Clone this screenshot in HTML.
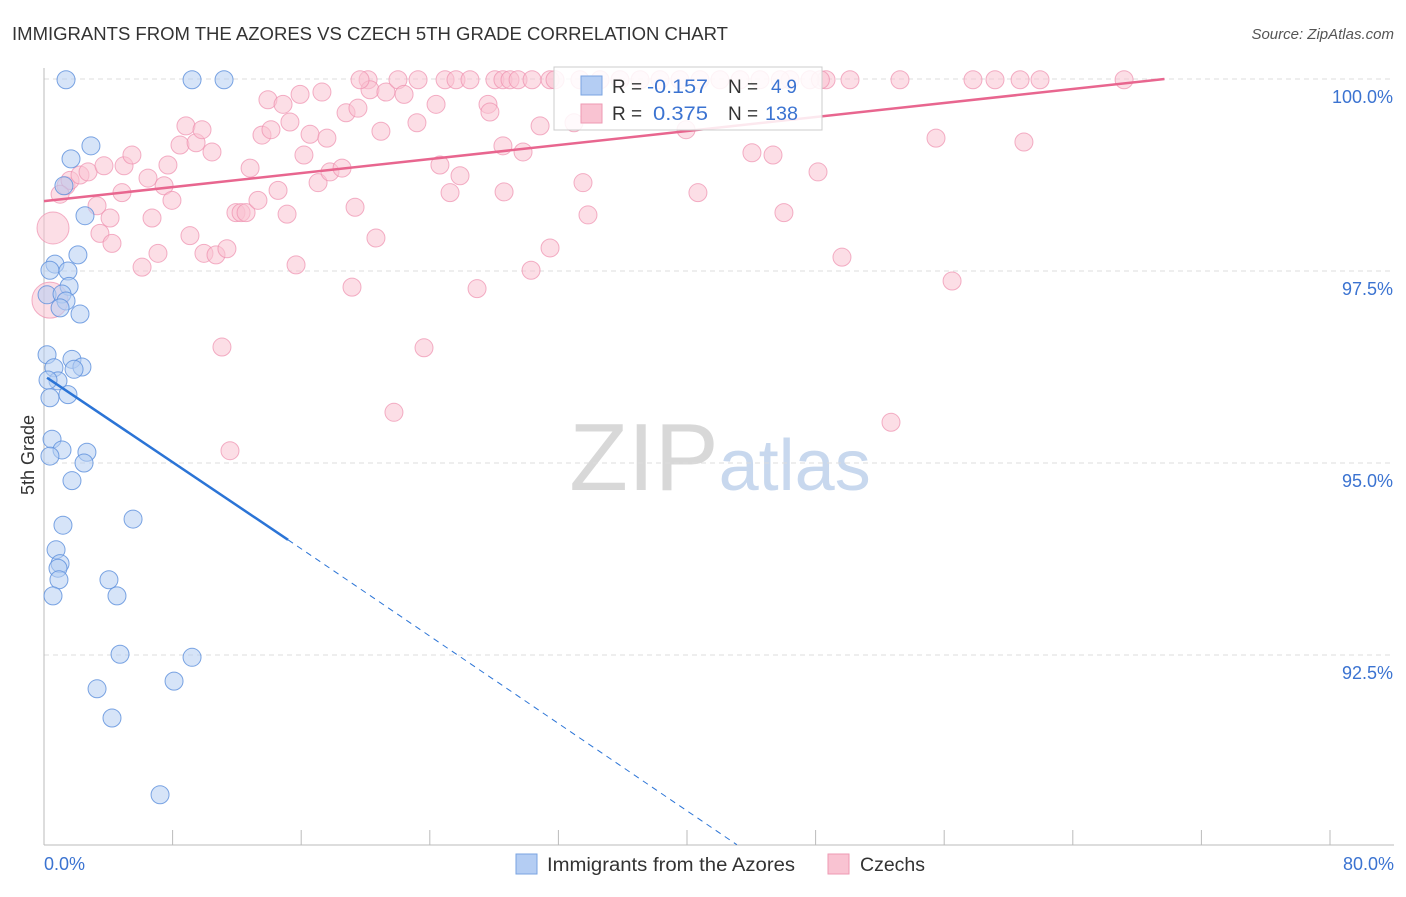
<!DOCTYPE html>
<html><head><meta charset="utf-8"><style>
body{margin:0;background:#fff;font-family:"Liberation Sans",sans-serif;}
svg text{font-family:"Liberation Sans",sans-serif;}
</style></head><body>
<svg id="chart" width="1406" height="892" viewBox="0 0 1406 892" xmlns="http://www.w3.org/2000/svg">
<text x="12" y="40" font-size="18" fill="#333" textLength="716" lengthAdjust="spacingAndGlyphs">IMMIGRANTS FROM THE AZORES VS CZECH 5TH GRADE CORRELATION CHART</text>
<text x="1394" y="39" font-size="15" fill="#555" font-style="italic" text-anchor="end">Source: ZipAtlas.com</text>
<text x="720" y="490" font-size="96" text-anchor="middle" fill="#d8d8d8" font-family="Liberation Serif">ZIP<tspan fill="#c8d8ee" font-family="Liberation Sans" font-size="72">atlas</tspan></text>
<text transform="translate(34,455) rotate(-90)" font-size="18" fill="#333" text-anchor="middle">5th Grade</text>
<g id="grid"></g>
<g id="axes"></g>
<g id="pink"></g>
<g id="blue"></g>
<g id="trends"></g>
<g>
<rect x="554" y="67" width="268" height="63" fill="#fff" fill-opacity="0.85" stroke="#ccc"/>
<rect x="581" y="76" width="21" height="19" fill="#b4cdf3" stroke="#7aa3e0"/>
<rect x="581" y="104" width="21" height="19" fill="#f9c3d2" stroke="#ee9ab3"/>
<text x="612" y="93" font-size="19" fill="#333">R = <tspan x="647" fill="#3b73d1" textLength="61" lengthAdjust="spacingAndGlyphs">-0.157</tspan><tspan x="728">N = </tspan><tspan x="771" fill="#3b73d1" textLength="26">49</tspan></text>
<text x="612" y="120" font-size="19" fill="#333">R = <tspan x="653" fill="#3b73d1" textLength="55" lengthAdjust="spacingAndGlyphs">0.375</tspan><tspan x="728">N = </tspan><tspan x="765" fill="#3b73d1" textLength="33" lengthAdjust="spacingAndGlyphs">138</tspan></text>
</g>
<g>
<rect x="516" y="854" width="21" height="20" fill="#b4cdf3" stroke="#7aa3e0"/>
<text x="547" y="871" font-size="19" fill="#333" textLength="248" lengthAdjust="spacingAndGlyphs">Immigrants from the Azores</text>
<rect x="828" y="854" width="21" height="20" fill="#f9c3d2" stroke="#ee9ab3"/>
<text x="860" y="871" font-size="19" fill="#333" textLength="65" lengthAdjust="spacingAndGlyphs">Czechs</text>
</g>
</svg>
<script>
const yTicks=[100,97.5,95,92.5];
const yTickLabels=["100.0%","97.5%","95.0%","92.5%"];
const xTickLabels=["0.0%","80.0%"];
const blueX=[1.37,9.21,11.20,2.92,1.68,1.24,2.55,2.11,0.68,0.37,1.49,1.56,0.19,1.12,1.37,1.00,2.24,0.19,1.74,2.36,0.62,1.87,0.87,0.25,1.49,0.37,0.50,1.12,2.67,0.37,2.49,1.74,1.18,5.54,0.75,1.00,0.87,0.93,4.04,0.56,4.54,4.73,9.21,8.09,3.30,4.23,7.22];
const blueY=[99.99,99.99,99.99,99.13,98.96,98.61,98.22,97.71,97.59,97.51,97.50,97.30,97.19,97.20,97.11,97.02,96.94,96.41,96.35,96.25,96.24,96.22,96.07,96.08,95.89,95.85,95.31,95.17,95.14,95.09,95.00,94.77,94.19,94.27,93.87,93.69,93.63,93.48,93.48,93.27,93.27,92.51,92.47,92.16,92.06,91.68,90.68];
const pinkX=[1.37,1.62,2.24,2.74,3.73,4.98,5.47,6.47,7.47,7.96,8.83,8.46,9.46,9.83,10.45,7.71,4.85,3.30,4.11,3.48,4.23,6.10,7.09,6.72,9.08,9.95,10.70,11.38,11.07,11.57,11.94,12.26,12.57,13.31,12.82,13.93,14.87,15.93,17.29,13.56,14.12,15.30,16.55,16.17,17.60,17.05,14.56,15.68,15.12,17.79,18.54,19.35,20.65,19.16,18.79,19.53,20.16,20.28,21.27,22.02,22.40,23.27,24.39,24.95,25.63,23.20,20.96,24.63,25.26,25.88,23.64,21.77,26.94,27.62,27.74,28.05,28.55,28.99,29.49,30.36,28.55,28.62,29.80,30.86,31.48,30.30,31.48,31.79,32.97,33.53,33.84,35.83,37.08,38.32,39.94,40.68,42.05,44.04,45.35,46.03,48.15,48.65,49.64,50.14,53.25,55.49,56.49,57.79,59.16,60.72,60.96,61.96,67.19,52.69,1.00,34.59,40.81,44.54,46.41,47.65,39.56,19.66,26.50,33.34,43.3,45.8,48.3];
const pinkY=[98.61,98.68,98.75,98.79,98.87,98.87,99.01,98.71,98.61,98.42,99.39,99.14,99.17,99.34,99.05,98.88,98.52,98.35,98.19,97.99,97.86,97.55,97.73,98.19,97.96,97.73,97.71,97.79,96.51,95.16,98.26,98.26,98.26,98.42,98.84,99.73,99.67,99.80,99.83,99.27,99.34,99.44,99.28,99.01,99.23,98.65,98.55,97.58,98.24,98.79,98.84,98.33,97.93,97.29,99.56,99.62,99.99,99.86,99.83,99.99,99.80,99.99,99.67,99.99,99.99,99.43,99.32,98.88,98.52,98.74,96.50,95.66,97.27,99.67,99.57,99.99,99.99,99.99,99.99,99.99,99.13,98.53,99.05,99.39,97.80,97.51,99.99,99.99,99.43,98.65,98.23,99.99,99.99,99.99,99.34,98.52,99.99,99.04,99.01,98.26,98.79,99.99,97.68,99.99,99.99,99.23,97.37,99.99,99.99,99.99,99.18,99.99,99.99,95.53,98.50,99.99,99.99,99.99,99.99,99.99,99.99,99.99,99.99,99.99,99.99,99.99,99.99];
const bigPinkX=[0.56,0.37];
const bigPinkY=[98.06,97.12];
const bigPinkR=[16,18];
const blueTrendX=[0.19,15.18,43.1];
const blueTrendY=[96.11,94.0,90.03];
const pinkTrendX=[0,69.7];
const pinkTrendY=[98.41,100];

const X=v=>44+v*16.075;
const Y=v=>79+(100-v)*76.8;
const NS="http://www.w3.org/2000/svg";
function mk(tag,parent,attrs){const e=document.createElementNS(NS,tag);for(const k in attrs)e.setAttribute(k,attrs[k]);document.getElementById(parent).appendChild(e);return e;}

yTicks.forEach((t,i)=>{
  const l=mk('line','grid',{x1:44,x2:1394,y1:Y(t),y2:Y(t),stroke:'#ddd','stroke-dasharray':'5,4'});
  
  
  const tx=mk('text','axes',{x:1393,y:Y(t)+24,'font-size':18,fill:'#3b73d1','text-anchor':'end'});
  tx.textContent=yTickLabels[i];
  
  
});
const ax=mk('line','axes',{x1:44,x2:44,y1:68,y2:845,stroke:'#bbb'});


const bx=mk('line','axes',{x1:44,x2:1394,y1:845,y2:845,stroke:'#bbb'});


for(let i=0;i<=10;i++){
  const t=mk('line','axes',{x1:X(i*8),x2:X(i*8),y1:830,y2:845,stroke:'#bbb'});
  
  
}
const xl0=mk('text','axes',{x:44,y:870,'font-size':18,fill:'#3b73d1'});
xl0.textContent=xTickLabels[0];


const xl1=mk('text','axes',{x:1394,y:870,'font-size':18,fill:'#3b73d1','text-anchor':'end'});
xl1.textContent=xTickLabels[1];



pinkX.forEach((v,i)=>{
  const c=mk('circle','pink',{cx:X(v),cy:Y(pinkY[i]),r:9,fill:'#f9c3d2','fill-opacity':0.55,stroke:'#ee8fae','stroke-opacity':0.7});
  
  
});
bigPinkX.forEach((v,i)=>{
  const c=mk('circle','pink',{cx:X(v),cy:Y(bigPinkY[i]),r:bigPinkR[i],fill:'#f9c3d2','fill-opacity':0.55,stroke:'#ee8fae','stroke-opacity':0.7});
  
  
});
blueX.forEach((v,i)=>{
  const c=mk('circle','blue',{cx:X(v),cy:Y(blueY[i]),r:9,fill:'#b4cdf3','fill-opacity':0.55,stroke:'#5b8fdc','stroke-opacity':0.8});
  
  
});
const pt=mk('line','trends',{x1:X(pinkTrendX[0]),y1:Y(pinkTrendY[0]),x2:X(pinkTrendX[1]),y2:Y(pinkTrendY[1]),stroke:'#e8668f','stroke-width':2.5});


const bt=mk('line','trends',{x1:X(blueTrendX[0]),y1:Y(blueTrendY[0]),x2:X(blueTrendX[1]),y2:Y(blueTrendY[1]),stroke:'#2b74d6','stroke-width':2.5});


const bd=mk('line','trends',{x1:X(blueTrendX[1]),y1:Y(blueTrendY[1]),x2:X(blueTrendX[2]),y2:Y(blueTrendY[2]),stroke:'#2b74d6','stroke-width':1,'stroke-dasharray':'6,5'});


</script>
</body></html>
